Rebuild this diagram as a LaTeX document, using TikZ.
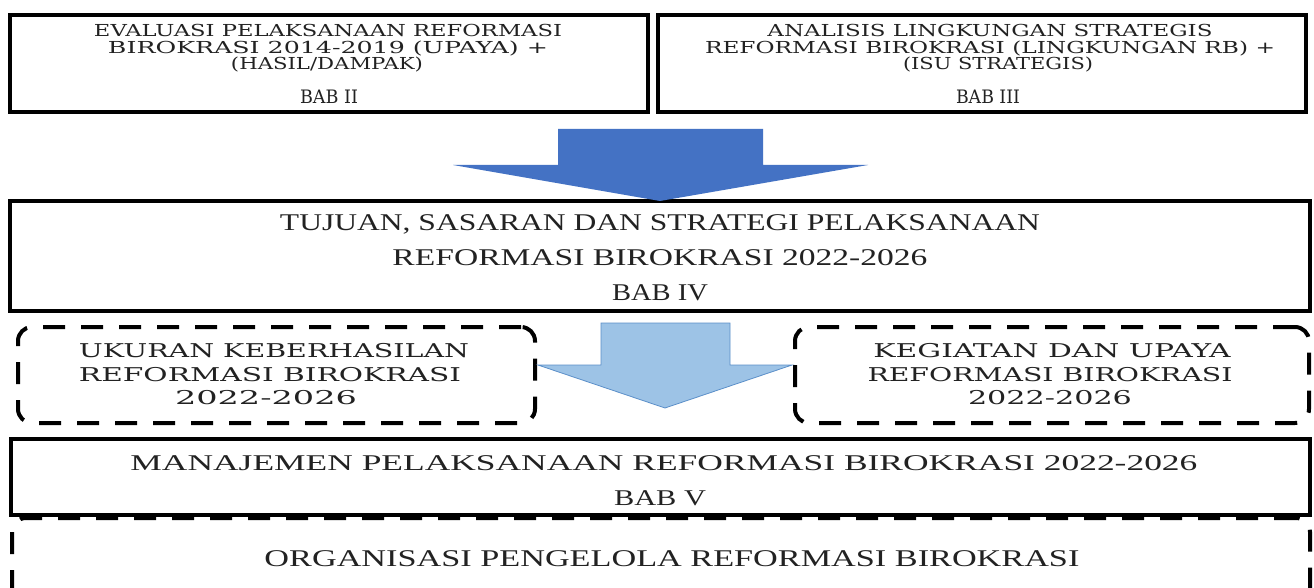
\documentclass[tikz,border=0pt]{standalone}
\usepackage{fontspec}
\setmainfont{Liberation Serif}
\newfontfamily\dvs{DejaVu Serif}
\usepackage{graphicx}
\newcommand{\fitw}[2]{\resizebox{#1pt}{\height}{#2}}
\definecolor{darkblue}{HTML}{4472C4}
\definecolor{lightblue}{HTML}{9DC3E6}
\definecolor{lightblueedge}{HTML}{5B8FC9}
\definecolor{txtc}{HTML}{222222}
\begin{document}
\begin{tikzpicture}[x=1pt,y=-1pt,
  solidbox/.style={draw=black, line width=4pt, inner sep=0pt},
  dashbox/.style={draw=black, line width=4pt, dash pattern=on 22pt off 16pt, rounded corners=14pt, inner sep=0pt},
  toptxt/.style={inner sep=0pt, anchor=base, text=txtc, font=\dvs\fontsize{16.5}{16.5}\selectfont},
  babtxt/.style={inner sep=0pt, anchor=base, text=txtc, font=\dvs\fontsize{18.5}{18.5}\selectfont},
  dashtxt/.style={inner sep=0pt, anchor=base, text=txtc, font=\dvs\fontsize{19}{19}\selectfont},
  bigtxt/.style={inner sep=0pt, anchor=base, text=txtc, font=\fontsize{24}{24}\selectfont},
  midtxt/.style={inner sep=0pt, anchor=base, text=txtc, font=\fontsize{22.5}{22.5}\selectfont},
  bigarrow/.style={fill=darkblue, draw=none},
  smallarrow/.style={fill=lightblue, draw=lightblueedge, line width=0.8pt, line join=miter}
]
\useasboundingbox (0,0) rectangle (1314,588);
\fill[white] (0,0) rectangle (1314,588);

% boxes
\node[solidbox, minimum width=638pt, minimum height=97pt] (bab2) at (329,63.5) {};
\node[solidbox, minimum width=648pt, minimum height=97pt] (bab3) at (982,63.5) {};
\node[solidbox, minimum width=1300pt, minimum height=110pt] (bab4) at (660,256) {};
\node[dashbox, minimum width=517pt, minimum height=96pt] (ukur) at (276.5,375) {};
\node[dashbox, minimum width=514pt, minimum height=96pt] (keg) at (1052,375) {};
\node[solidbox, minimum width=1299pt, minimum height=76pt] (bab5) at (660.5,477) {};
\node[dashbox, minimum width=1298pt, minimum height=122pt] (org) at (661,579) {};

% arrows
\path[bigarrow] (558,129) -- (763,129) -- (763,165) -- (868,165) -- (660,201) -- (453,165) -- (558,165) -- cycle;
\path[smallarrow] (601,323) -- (730,323) -- (730,365) -- (792,365) -- (665,408) -- (538,365) -- (601,365) -- cycle;

% texts box BAB II
\node[toptxt] (t2a) at (328,37) {\fitw{468}{EVALUASI PELAKSANAAN REFORMASI}};
\node[toptxt] (t2b) at (328,53.5) {\fitw{440}{BIROKRASI 2014-2019 (UPAYA) +}};
\node[toptxt] (t2c) at (327,70) {\fitw{192}{(HASIL/DAMPAK)}};
\node[babtxt] (t2d) at (329,104) {\fitw{58}{BAB II}};

% texts box BAB III
\node[toptxt] (t3a) at (990,37) {\fitw{445}{ANALISIS LINGKUNGAN STRATEGIS}};
\node[toptxt] (t3b) at (990,53.5) {\fitw{570}{REFORMASI BIROKRASI (LINGKUNGAN RB) +}};
\node[toptxt] (t3c) at (998,70) {\fitw{190}{(ISU STRATEGIS)}};
\node[babtxt] (t3d) at (988,104) {\fitw{64}{BAB III}};

% texts box BAB IV
\node[bigtxt] (t4a) at (660,230) {\fitw{760}{TUJUAN, SASARAN DAN STRATEGI PELAKSANAAN}};
\node[bigtxt] (t4b) at (660,265) {\fitw{535}{REFORMASI BIROKRASI 2022-2026}};
\node[bigtxt] (t4c) at (660,300) {\fitw{96}{BAB IV}};

% dashed boxes texts
\node[dashtxt] (u1) at (274,357) {\fitw{390}{UKURAN KEBERHASILAN}};
\node[dashtxt] (u2) at (270,381) {\fitw{382}{REFORMASI BIROKRASI}};
\node[dashtxt] (u3) at (266,404) {\fitw{182}{2022-2026}};
\node[dashtxt] (k1) at (1052,357) {\fitw{357}{KEGIATAN DAN UPAYA}};
\node[dashtxt] (k2) at (1050,381) {\fitw{365}{REFORMASI BIROKRASI}};
\node[dashtxt] (k3) at (1050,404) {\fitw{164}{2022-2026}};

% box BAB V
\node[midtxt] (t5a) at (664,470) {\fitw{1067}{MANAJEMEN PELAKSANAAN REFORMASI BIROKRASI 2022-2026}};
\node[midtxt] (t5b) at (660,505) {\fitw{92}{BAB V}};

% bottom
\node[bigtxt] (o1) at (672,566) {\fitw{815}{ORGANISASI PENGELOLA REFORMASI BIROKRASI}};
\end{tikzpicture}
\end{document}
